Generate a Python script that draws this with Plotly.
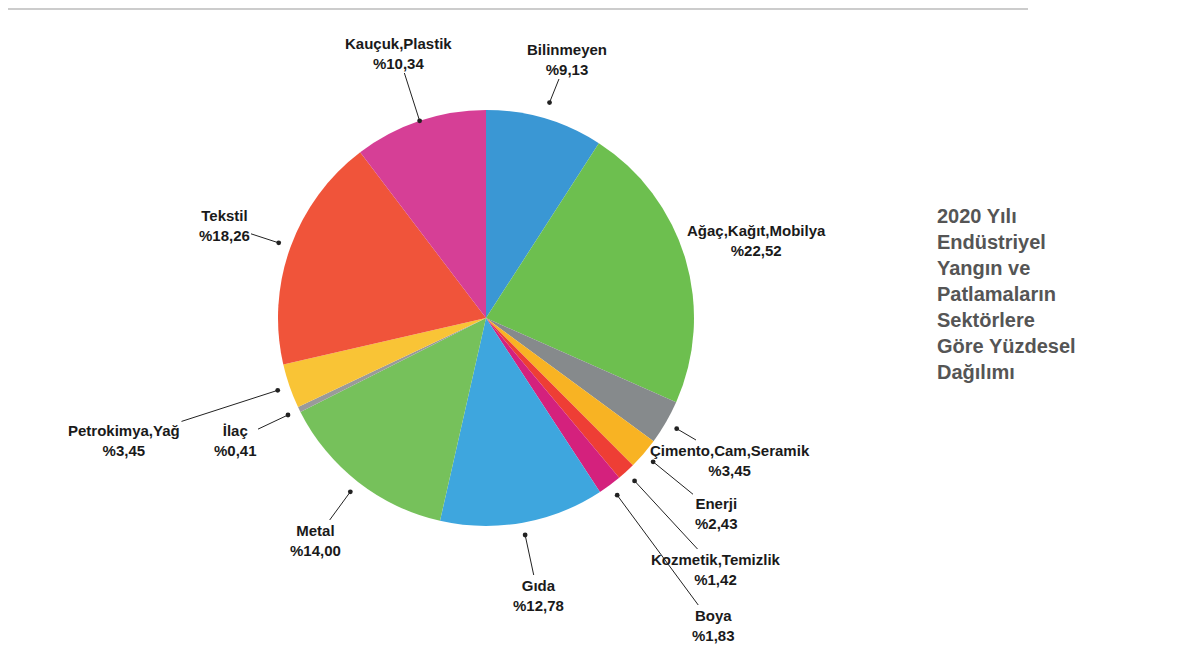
import math
import plotly.graph_objects as go

labels = ["Bilinmeyen", "Ağaç,Kağıt,Mobilya", "Çimento,Cam,Seramik", "Enerji",
          "Kozmetik,Temizlik", "Boya", "Gıda", "Metal", "İlaç", "Petrokimya,Yağ",
          "Tekstil", "Kauçuk,Plastik"]
values = [9.13, 22.52, 3.45, 2.43, 1.42, 1.83, 12.78, 14.00, 0.41, 3.45, 18.26, 10.34]
value_text = ["%9,13", "%22,52", "%3,45", "%2,43", "%1,42", "%1,83", "%12,78",
              "%14,00", "%0,41", "%3,45", "%18,26", "%10,34"]
colors = ["#3a97d4", "#6dbf4f", "#868a8c", "#f8b323", "#ee3e35", "#d4217d",
          "#3ea6de", "#76c15b", "#9a9a9a", "#f9c436", "#f0543a", "#d63f96"]
# label text centres (px) – layout styling
label_pos = [(559, 51), (748, 232), (722, 452), (708, 505), (708, 561), (705, 617),
             (530, 587), (307, 532), (227, 432), (116, 432), (216, 217), (390, 45)]
tip_scale = [1.08, 1.0, 1.06, 1.06, 1.06, 1.06, 1.06, 1.06, 1.06, 1.06, 1.06, 1.0]

W, H = 1185, 649
cx, cy, R = 478, 310, 208

fig = go.Figure()
fig.add_trace(go.Pie(values=values, labels=labels, marker=dict(colors=colors),
                     sort=False, direction="clockwise", rotation=0,
                     textinfo="none", hoverinfo="label+percent", showlegend=False,
                     domain=dict(x=[(cx - R) / W, (cx + R) / W],
                                 y=[(H - cy - R) / H, (H - cy + R) / H])))
fig.add_trace(go.Scatter(x=[0], y=[0], mode="markers", marker=dict(opacity=0),
                         showlegend=False, hoverinfo="skip"))

total = sum(values)
cum = 0
anns = []
for i, v in enumerate(values):
    mid = (cum + v / 2) / total
    cum += v
    ang = math.pi / 2 - 2 * math.pi * mid
    r = R * tip_scale[i]
    tx, ty = cx + r * math.cos(ang), cy - r * math.sin(ang)
    lx, ly = label_pos[i]
    anns.append(dict(x=tx, y=ty, xref="x", yref="y", ax=lx, ay=ly, axref="x", ayref="y",
                     text=f"<b>{labels[i]}<br>{value_text[i]}</b>", showarrow=True,
                     arrowhead=6, arrowsize=1.2, arrowwidth=1, arrowcolor="#222",
                     startarrowhead=0, font=dict(size=15, color="#1a1a1a",
                                                 family="Liberation Sans, Arial")))
anns.append(dict(x=927, y=195, xref="x", yref="y", xanchor="left", yanchor="top",
                 align="left", showarrow=False,
                 text="<b>2020 Yılı<br>Endüstriyel<br>Yangın ve<br>Patlamaların<br>Sektörlere<br>Göre Yüzdesel<br>Dağılımı</b>",
                 font=dict(size=20, color="#555", family="Liberation Sans, Arial")))

fig.update_layout(width=W, height=H, margin=dict(l=0, r=0, t=0, b=0),
                  paper_bgcolor="white", plot_bgcolor="rgba(0,0,0,0)",
                  xaxis=dict(range=[0, W], visible=False, domain=[0, 1]),
                  yaxis=dict(range=[H, 0], visible=False, domain=[0, 1]),
                  annotations=anns,
                  shapes=[dict(type="line", xref="x", yref="y", x0=0, x1=1020, y0=1, y1=1,
                               line=dict(color="#999", width=1))])
fig.write_html("out.html")
